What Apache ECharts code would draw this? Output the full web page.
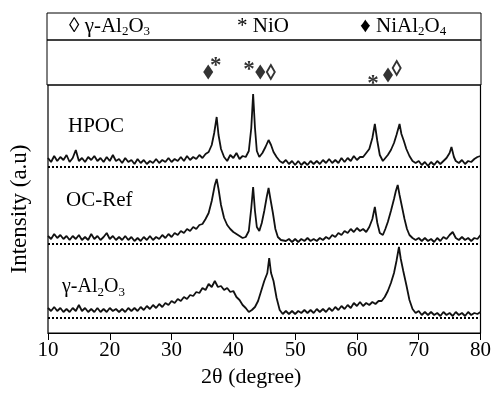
<!DOCTYPE html>
<html>
  <head>
    <meta charset="utf-8" />
    <title>XRD</title>
    <script src="https://cdn.jsdelivr.net/npm/echarts/dist/echarts.min.js"></script>
    <style>
      html, body { margin: 0; padding: 0; background: #fff; }
    </style>
  </head>
  <body>
    <div id="main" style="width: 494px; height: 402px;"></div>

    <script type="text/javascript">
      var myChart = echarts.init(document.getElementById('main'));

      // x axis ticks (2θ)
      const xTicks = [10, 20, 30, 40, 50, 60, 70, 80];

      // traces: [2θ, intensity (offset units)]
      const hpoc = [
        [10,175],[10.5,171],[11,177],[11.5,172],[12,176],[12.5,173],[13,178],[13.5,171],[14,175],[14.5,183],
        [15,172],[15.5,175],[16,171],[16.5,176],[17,173],[17.5,177],[18,172],[18.5,175],[19,171],[19.5,176],
        [20,172],[20.5,178],[21,172],[21.5,174],[22,170],[22.5,175],[23,171],[23.5,173],[24,169],[24.5,174],
        [25,170],[25.5,173],[26,169],[26.5,172],[27,170],[27.5,174],[28,170],[28.5,173],[29,171],[29.5,175],
        [30,171],[30.5,174],[31,172],[31.5,176],[32,172],[32.5,177],[33,173],[33.5,176],[34,174],[34.5,178],
        [35,175],[35.5,179],[36,181],[36.5,188],[36.9,200],[37.3,216],[37.6,198],[38,184],[38.5,176],[39,172],
        [39.5,178],[40,175],[40.5,180],[41,174],[41.5,177],[42,176],[42.5,182],[42.9,205],[43.2,239],[43.5,205],
        [43.8,182],[44.2,176],[44.7,180],[45.2,186],[45.7,193],[46.1,188],[46.5,181],[47,176],[47.5,172],[48,170],
        [48.5,173],[49,169],[49.5,172],[50,168],[50.5,172],[51,168],[51.5,171],[52,168],[52.5,172],[53,169],
        [53.5,172],[54,169],[54.5,173],[55,170],[55.5,174],[56,170],[56.5,173],[57,170],[57.5,175],[58,171],
        [58.5,175],[59,172],[59.5,177],[60,173],[60.5,176],[61,176],[61.5,180],[62,184],[62.5,195],[62.9,209],
        [63.3,192],[63.7,178],[64.2,172],[64.6,175],[65,178],[65.5,183],[66,190],[66.4,198],[66.9,209],[67.2,199],
        [67.6,192],[68,184],[68.5,177],[69,172],[69.5,170],[70,172],[70.5,168],[71,171],[71.5,167],[72,171],
        [72.5,168],[73,172],[73.5,169],[74,172],[74.5,175],[75,180],[75.3,186],[75.7,176],[76,172],[76.5,170],
        [77,173],[77.5,169],[78,172],[78.5,171],[79,174],[79.5,176],[80,177]
      ];
      const ocRef = [
        [10,97],[10.5,94],[11,99],[11.5,95],[12,98],[12.5,94],[13,97],[13.5,93],[14,97],[14.5,94],
        [15,98],[15.5,93],[16,96],[16.5,93],[17,99],[17.5,94],[18,97],[18.5,93],[19,96],[19.5,100],
        [20,94],[20.5,97],[21,93],[21.5,96],[22,93],[22.5,97],[23,93],[23.5,96],[24,92],[24.5,95],
        [25,92],[25.5,96],[26,93],[26.5,97],[27,93],[27.5,96],[28,94],[28.5,98],[29,95],[29.5,99],
        [30,96],[30.5,100],[31,98],[31.5,102],[32,100],[32.5,104],[33,102],[33.5,106],[34,104],[34.5,108],
        [35,109],[35.5,114],[36,120],[36.5,132],[37,148],[37.3,154],[37.6,144],[38,128],[38.5,115],[39,108],
        [39.5,104],[40,101],[40.5,99],[41,97],[41.5,95],[42,96],[42.5,102],[42.9,125],[43.2,146],[43.5,122],
        [43.8,106],[44.2,102],[44.6,110],[45,122],[45.4,136],[45.7,145],[46,134],[46.4,120],[46.8,104],[47.2,96],
        [47.7,93],[48,95],[48.5,92],[49,94],[49.5,91],[50,94],[50.5,91],[51,94],[51.5,92],[52,95],
        [52.5,92],[53,94],[53.5,92],[54,95],[54.5,93],[55,96],[55.5,94],[56,98],[56.5,96],[57,100],
        [57.5,98],[58,102],[58.5,100],[59,104],[59.5,101],[60,105],[60.5,102],[61,104],[61.5,101],[62,106],
        [62.5,114],[62.9,126],[63.3,110],[63.7,100],[64.2,98],[64.6,104],[65,111],[65.5,122],[66,134],[66.3,142],
        [66.6,148],[66.9,138],[67.3,126],[67.7,114],[68.1,104],[68.5,98],[69,95],[69.5,93],[70,95],[70.5,92],
        [71,95],[71.5,92],[72,94],[72.5,91],[73,95],[73.5,92],[74,96],[74.5,94],[75,98],[75.5,101],
        [76,95],[76.5,93],[77,96],[77.5,93],[78,95],[78.5,92],[79,95],[79.5,94],[80,98]
      ];
      const gAl2O3 = [
        [10,25],[10.5,22],[11,26],[11.5,22],[12,25],[12.5,21],[13,24],[13.5,21],[14,25],[14.5,22],
        [15,28],[15.5,22],[16,25],[16.5,21],[17,24],[17.5,21],[18,25],[18.5,21],[19,24],[19.5,21],
        [20,25],[20.5,22],[21,24],[21.5,21],[22,24],[22.5,21],[23,25],[23.5,22],[24,25],[24.5,22],
        [25,26],[25.5,23],[26,27],[26.5,24],[27,28],[27.5,25],[28,29],[28.5,26],[29,30],[29.5,28],
        [30,32],[30.5,30],[31,34],[31.5,32],[32,36],[32.5,34],[33,38],[33.5,37],[34,41],[34.5,40],
        [35,45],[35.5,43],[36,49],[36.5,46],[37,52],[37.5,46],[38,47],[38.5,43],[39,45],[39.5,41],
        [40,42],[40.5,36],[41,33],[41.5,28],[42,25],[42.5,21],[43,23],[43.5,26],[44,32],[44.5,42],
        [45,52],[45.5,60],[45.8,75],[46.1,60],[46.5,52],[47,35],[47.5,23],[48,19],[48.5,22],[49,19],
        [49.5,22],[50,19],[50.5,22],[51,20],[51.5,23],[52,20],[52.5,23],[53,20],[53.5,24],[54,21],
        [54.5,24],[55,21],[55.5,25],[56,22],[56.5,26],[57,23],[57.5,27],[58,24],[58.5,28],[59,25],
        [59.5,30],[60,27],[60.5,31],[61,27],[61.5,30],[62,28],[62.5,31],[63,29],[63.5,32],[64,32],
        [64.5,36],[65,42],[65.5,50],[66,60],[66.4,72],[66.8,86],[67.1,74],[67.5,62],[68,48],[68.5,33],
        [69,24],[69.5,20],[70,22],[70.5,18],[71,21],[71.5,18],[72,21],[72.5,18],[73,20],[73.5,17],
        [74,21],[74.5,18],[75,20],[75.5,17],[76,21],[76.5,18],[77,20],[77.5,17],[78,21],[78.5,18],
        [79,20],[79.5,19],[80,21]
      ];
      // dotted zero lines of each trace
      const baselines = [166, 89, 15];

      // phase markers: [2θ, height in marker box]
      const nialMarks = [[36.0, 13], [44.4, 13], [65.0, 10]];
      const aluminaMarks = [[46.1, 13], [66.4, 17]];
      const nioMarks = [[37.2, 25], [42.6, 21], [62.6, 7]];

      const serif = '"Liberation Serif", "Times New Roman", serif';
      const sub = { fontSize: 13, fontFamily: serif, color: '#000', padding: [11, 0, 0, 0] };

      function traceSeries(name, data, base) {
        return {
          name: name,
          type: 'line',
          xAxisIndex: 2,
          yAxisIndex: 2,
          showSymbol: false,
          data: data,
          lineStyle: { color: '#111', width: 1.8 },
          markLine: {
            silent: true,
            symbol: 'none',
            label: { show: false },
            lineStyle: { color: '#000', width: 2, type: [2, 2] },
            data: [{ yAxis: base }]
          }
        };
      }

      const hiddenX = (i) => ({ gridIndex: i, type: 'value', min: 10, max: 80, show: false });

      let option = {
        animation: false,
        grid: [
          { left: 47, right: 13, top: 13, height: 27, show: true, borderColor: '#000', borderWidth: 1 },
          { left: 47, right: 13, top: 40, height: 45, show: true, borderColor: '#000', borderWidth: 1 },
          { left: 47, right: 13, top: 85, height: 248, show: true, borderColor: '#000', borderWidth: 1.2 }
        ],
        xAxis: [
          hiddenX(0),
          hiddenX(1),
          {
            gridIndex: 2, type: 'value', min: 10, max: 80, interval: 10,
            name: '2θ (degree)', nameLocation: 'middle', nameGap: 32,
            nameTextStyle: { fontSize: 22, fontFamily: serif, color: '#000', padding: [0, 26, 0, 0] },
            axisLine: { show: true, lineStyle: { color: '#000', width: 1 } },
            axisTick: { show: true, inside: false, length: 7, lineStyle: { color: '#000' } },
            axisLabel: { fontSize: 21, fontFamily: serif, color: '#000', margin: 7,
              formatter: (v) => xTicks.indexOf(v) >= 0 ? String(v) : '' },
            splitLine: { show: false }
          }
        ],
        yAxis: [
          { gridIndex: 0, type: 'value', min: 0, max: 27, show: false },
          { gridIndex: 1, type: 'value', min: 0, max: 45, show: false },
          {
            gridIndex: 2, type: 'value', min: 0, max: 248,
            name: 'Intensity (a.u)', nameLocation: 'middle', nameGap: 17, nameRotate: 90,
            nameTextStyle: { fontSize: 23, fontFamily: serif, color: '#000' },
            axisLine: { show: false }, axisTick: { show: false }, axisLabel: { show: false },
            splitLine: { show: false }
          }
        ],
        graphic: [
          { type: 'text', left: 69, top: 16, style: { text: '◊ γ-Al{s|2}O{s|3}', font: '21px ' + serif, fill: '#000', rich: { s: sub } } },
          { type: 'text', left: 237, top: 16, style: { text: '* NiO', font: '21px ' + serif, fill: '#000' } },
          { type: 'text', left: 360, top: 16, style: { text: '♦ NiAl{s|2}O{s|4}', font: '21px ' + serif, fill: '#000', rich: { s: sub } } },
          { type: 'text', left: 68, top: 116, style: { text: 'HPOC', font: '21px ' + serif, fill: '#000' } },
          { type: 'text', left: 66, top: 190, style: { text: 'OC-Ref', font: '21px ' + serif, fill: '#000' } },
          { type: 'text', left: 62, top: 277, style: { text: 'γ-Al{s|2}O{s|3}', font: '20px ' + serif, fill: '#000', rich: { s: sub } } }
        ],
        series: [
          {
            type: 'scatter', xAxisIndex: 1, yAxisIndex: 1, symbol: 'diamond', symbolSize: [10, 15],
            itemStyle: { color: '#000' }, data: nialMarks
          },
          {
            type: 'scatter', xAxisIndex: 1, yAxisIndex: 1, symbol: 'emptyDiamond', symbolSize: [8, 14],
            itemStyle: { color: '#000', borderWidth: 1.2 }, data: aluminaMarks
          },
          {
            type: 'scatter', xAxisIndex: 1, yAxisIndex: 1, symbolSize: 1,
            itemStyle: { color: 'rgba(0,0,0,0)' },
            label: { show: true, position: 'inside', offset: [0, 6], formatter: '*', fontSize: 23,
              fontWeight: 'bold', fontFamily: serif, color: '#000' },
            data: nioMarks
          },
          traceSeries('HPOC', hpoc, baselines[0]),
          traceSeries('OC-Ref', ocRef, baselines[1]),
          traceSeries('γ-Al2O3', gAl2O3, baselines[2])
        ]
      };

      myChart.setOption(option);
    </script>
  </body>
</html>
